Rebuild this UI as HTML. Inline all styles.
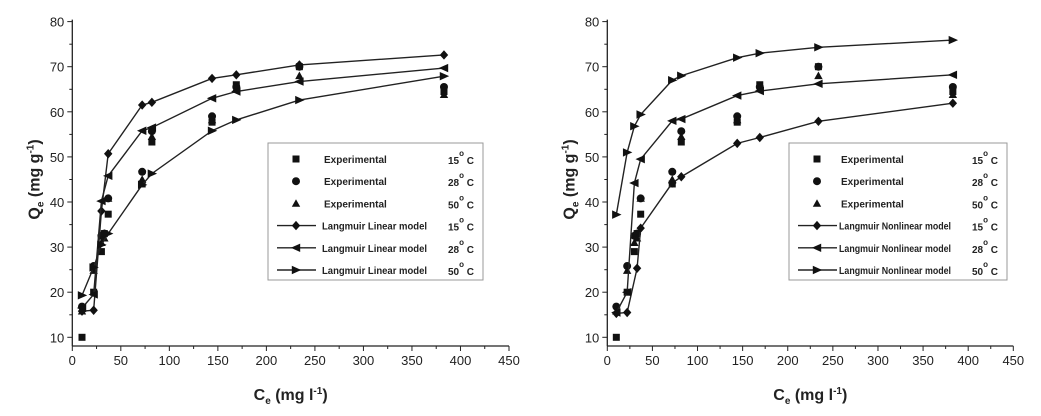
<!DOCTYPE html>
<html><head><meta charset="utf-8"><style>
body{margin:0;background:#fff;}
svg{display:block;font-family:"Liberation Sans",Arial,sans-serif;}
</style></head><body>
<svg id="c" width="1041" height="416"></svg>
<script>
const NS="http://www.w3.org/2000/svg";
const xs=[10,22,30,33,37,72,82,144,169,234,383];
const exp15=[10,20,29,33,37.3,44,53.3,57.7,66,70,64.5];
const exp28=[16.8,25.8,32.5,33,40.8,46.7,55.7,59,65.5,70,65.5];
const exp50=[15.8,24.8,31,32,40.8,45,54.5,58.2,65.2,68,63.8];
const mx=[10,22,30,37,72,82,144,169,234,383];
const lin15=[15.8,16,38,50.7,61.5,62.1,67.4,68.2,70.4,72.6];
const lin28=[16.5,19.5,40.2,45.8,55.8,56.5,63,64.5,66.7,69.7];
const lin50=[19.3,25.5,30.5,33,43.8,46.3,55.8,58.2,62.6,67.9];
const nmx=[10,22,33,37,72,82,144,169,234,383];
const nl15=[15.3,15.5,25.3,34.2,44.2,45.6,53,54.3,57.9,61.9];
const nl28=[15.5,20,44.2,49.5,58,58.4,63.6,64.6,66.2,68.2];
const nl50=[37.2,51,56.8,59.4,67,68,72,73,74.3,75.9];
const xTicks=[0,50,100,150,200,250,300,350,400,450];
const yTicks=[10,20,30,40,50,60,70,80];
const svg=document.getElementById('c');
function el(t,a,p){const e=document.createElementNS(NS,t);for(const k in a)e.setAttribute(k,a[k]);(p||svg).appendChild(e);return e;}
function marker(g,kind,px,py){
  const s=4.2;let m;
  if(kind==='sq')m=el('rect',{x:px-3.5,y:py-3.5,width:7,height:7,fill:'#111'},g);
  else if(kind==='ci')m=el('circle',{cx:px,cy:py,r:4,fill:'#111'},g);
  else if(kind==='up')m=el('polygon',{points:`${px},${py-s} ${px-s},${py+s*0.8} ${px+s},${py+s*0.8}`,fill:'#111'},g);
  else if(kind==='di')m=el('polygon',{points:`${px},${py-s-0.5} ${px+s},${py} ${px},${py+s+0.5} ${px-s},${py}`,fill:'#111'},g);
  else if(kind==='lt')m=el('polygon',{points:`${px-s-1},${py} ${px+s},${py-s} ${px+s},${py+s}`,fill:'#111'},g);
  else m=el('polygon',{points:`${px+s+1},${py} ${px-s},${py-s} ${px-s},${py+s}`,fill:'#111'},g);
  
  
}
function chart(x0,x450,models,labelTxt,legX,legW,txtOff,txtLen,name){
  const g=el('g',{});
  
  
  const yb=346,yOf=v=>337.3-(v-10)*45.1/10,xOf=v=>x0+(x450-x0)*v/450;
  el('line',{x1:x0,y1:yb,x2:x450,y2:yb,stroke:'#222','stroke-width':1.3},g);
  el('line',{x1:x0,y1:yb,x2:x0,y2:yOf(80)-2,stroke:'#222','stroke-width':1.3},g);
  xTicks.forEach(t=>{const x=xOf(t);
    el('line',{x1:x,y1:yb,x2:x,y2:yb+5,stroke:'#222'},g);
    if(t<450)el('line',{x1:x+xOf(25)-xOf(0),y1:yb,x2:x+xOf(25)-xOf(0),y2:yb+3,stroke:'#222'},g);
    const tx=el('text',{x:x,y:yb+19,'font-size':13,'text-anchor':'middle',fill:'#222'},g);tx.textContent=t;
    });
  yTicks.forEach(t=>{const y=yOf(t);
    el('line',{x1:x0-5,y1:y,x2:x0,y2:y,stroke:'#222'},g);
    if(t<80)el('line',{x1:x0-3,y1:y-22.5,x2:x0,y2:y-22.5,stroke:'#222'},g);
    const tx=el('text',{x:x0-8,y:y+5,'font-size':13,'text-anchor':'end',fill:'#222'},g);tx.textContent=t;
    });
  const yt=el('text',{transform:`translate(${x0-33},${yOf(45)}) rotate(-90)`,'font-size':16,'font-weight':'bold','text-anchor':'middle',fill:'#222'},g);
  yt.innerHTML='Q<tspan font-size="10" dy="4">e</tspan><tspan dy="-4"> (mg g</tspan><tspan font-size="10" dy="-6">-1</tspan><tspan dy="6">)</tspan>';
  
  const xt=el('text',{x:(x0+x450)/2,y:400,'font-size':16,'font-weight':'bold','text-anchor':'middle',fill:'#222'},g);
  xt.innerHTML='C<tspan font-size="10" dy="4">e</tspan><tspan dy="-4"> (mg l</tspan><tspan font-size="10" dy="-6">-1</tspan><tspan dy="6">)</tspan>';
  
  [[exp15,'sq'],[exp28,'ci'],[exp50,'up']].forEach(([d,k])=>d.forEach((v,i)=>marker(g,k,xOf(xs[i]),yOf(v))));
  models.forEach(([mxs,d,k])=>{
    const l=el('polyline',{points:d.map((v,i)=>xOf(mxs[i])+','+yOf(v)).join(' '),fill:'none',stroke:'#222','stroke-width':1.4},g);
    
    d.forEach((v,i)=>marker(g,k,xOf(mxs[i]),yOf(v)));});
  const lg=el('g',{},g);
  el('rect',{x:legX,y:143,width:legW,height:137,fill:'#fff',stroke:'#999'},lg);
  const rows=[['sq','Experimental','15'],['ci','Experimental','28'],['up','Experimental','50'],['di',labelTxt,'15'],['lt',labelTxt,'28'],['rt',labelTxt,'50']];
  rows.forEach((r,i)=>{const y=159+i*22.2;const mxp=legX+28;
    if(i>=3)el('line',{x1:legX+9,y1:y,x2:legX+48,y2:y,stroke:'#222','stroke-width':1.4},lg);
    marker(lg,r[0],mxp,y);
    const a={x:legX+txtOff+(i<3?2:0),y:y+4,'font-size':10,'font-weight':'bold',fill:'#222'};
    if(i>=3){a.textLength=txtLen;a.lengthAdjust='spacingAndGlyphs';}
    const t=el('text',a,lg);t.textContent=r[1];
    
    const tt=el('text',{x:legX+legW-35,y:y+5,'font-size':10,'font-weight':'bold',fill:'#222'},lg);
    tt.innerHTML=r[2]+'<tspan font-size="8" dy="-8">o</tspan><tspan dy="8"> C</tspan>';});
}
chart(72.3,509,[[mx,lin15,'di'],[mx,lin28,'lt'],[mx,lin50,'rt']],'Langmuir Linear model',268,215,54,105,'left-chart');
chart(607.3,1013.3,[[nmx,nl15,'di'],[mx,nl28,'lt'],[mx,nl50,'rt']],'Langmuir Nonlinear model',789,218,50,112,'right-chart');
</script>
</body></html>
